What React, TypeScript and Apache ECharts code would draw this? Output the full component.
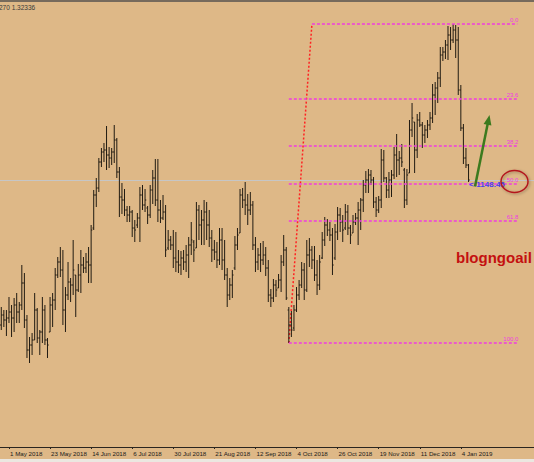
import React, { useEffect, useRef } from "react";
import * as echarts from "echarts";

// ---- Daily OHLC bars, first bar = 26 Apr 2018 ----
const high = [
  1.193, 1.190, 1.190, 1.203, 1.195, 1.202, 1.207, 1.198, 1.235, 1.227,
  1.185, 1.163, 1.167, 1.207, 1.192, 1.170, 1.203, 1.195, 1.162, 1.203,
  1.207, 1.232, 1.243, 1.253, 1.250, 1.213, 1.238, 1.222, 1.260, 1.225,
  1.236, 1.250, 1.243, 1.247, 1.253, 1.275, 1.310, 1.322, 1.342, 1.352,
  1.357, 1.374, 1.353, 1.352, 1.375, 1.362, 1.333, 1.317, 1.311, 1.294,
  1.294, 1.290, 1.280, 1.287, 1.313, 1.315, 1.311, 1.294, 1.315, 1.330,
  1.341, 1.341, 1.300, 1.305, 1.295, 1.270, 1.264, 1.270, 1.268, 1.250,
  1.249, 1.250, 1.255, 1.263, 1.278, 1.260, 1.298, 1.295, 1.290, 1.300,
  1.298, 1.290, 1.270, 1.260, 1.258, 1.272, 1.272, 1.260, 1.232, 1.222,
  1.230, 1.264, 1.272, 1.311, 1.312, 1.318, 1.306, 1.308, 1.299, 1.263,
  1.252, 1.257, 1.259, 1.253, 1.240, 1.211, 1.221, 1.220, 1.226, 1.245,
  1.265, 1.253, 1.193, 1.189, 1.195, 1.213, 1.220, 1.238, 1.237, 1.260,
  1.262, 1.254, 1.254, 1.240, 1.245, 1.268, 1.283, 1.281, 1.278, 1.272,
  1.276, 1.293, 1.292, 1.285, 1.296, 1.295, 1.275, 1.285, 1.287, 1.298,
  1.302, 1.320, 1.329, 1.331, 1.330, 1.323, 1.303, 1.304, 1.351, 1.350,
  1.323, 1.328, 1.330, 1.353, 1.366, 1.349, 1.356, 1.332, 1.331, 1.380,
  1.397, 1.378, 1.386, 1.388, 1.378, 1.375, 1.380, 1.388, 1.416, 1.418,
  1.428, 1.453, 1.453, 1.460, 1.474, 1.473, 1.476, 1.475, 1.473, 1.415,
  1.376, 1.352, 1.336,
];
const low = [
  1.170, 1.173, 1.164, 1.177, 1.163, 1.168, 1.177, 1.177, 1.190, 1.172,
  1.142, 1.137, 1.145, 1.160, 1.157, 1.145, 1.157, 1.155, 1.142, 1.168,
  1.173, 1.190, 1.222, 1.223, 1.175, 1.168, 1.200, 1.198, 1.205, 1.183,
  1.208, 1.207, 1.227, 1.227, 1.217, 1.217, 1.270, 1.293, 1.308, 1.333,
  1.338, 1.330, 1.332, 1.335, 1.337, 1.322, 1.283, 1.286, 1.284, 1.278,
  1.278, 1.263, 1.258, 1.272, 1.258, 1.290, 1.288, 1.276, 1.282, 1.296,
  1.294, 1.278, 1.277, 1.280, 1.243, 1.250, 1.250, 1.232, 1.228, 1.227,
  1.225, 1.230, 1.228, 1.222, 1.245, 1.238, 1.252, 1.260, 1.255, 1.255,
  1.260, 1.253, 1.238, 1.240, 1.232, 1.235, 1.230, 1.220, 1.193, 1.200,
  1.202, 1.230, 1.250, 1.267, 1.292, 1.285, 1.275, 1.285, 1.250, 1.228,
  1.230, 1.228, 1.235, 1.224, 1.198, 1.193, 1.198, 1.203, 1.212, 1.208,
  1.234, 1.200, 1.157, 1.163, 1.169, 1.188, 1.200, 1.212, 1.200, 1.208,
  1.233, 1.231, 1.219, 1.205, 1.210, 1.241, 1.254, 1.264, 1.259, 1.225,
  1.240, 1.260, 1.268, 1.258, 1.270, 1.265, 1.256, 1.267, 1.275, 1.255,
  1.270, 1.288, 1.307, 1.307, 1.315, 1.292, 1.283, 1.287, 1.292, 1.318,
  1.302, 1.302, 1.303, 1.321, 1.323, 1.325, 1.333, 1.292, 1.295, 1.327,
  1.363, 1.327, 1.342, 1.373, 1.352, 1.357, 1.362, 1.370, 1.377, 1.385,
  1.397, 1.413, 1.439, 1.441, 1.440, 1.450, 1.457, 1.442, 1.405, 1.369,
  1.336, 1.332, 1.318,
];
const open = [
  1.175, 1.185, 1.180, 1.182, 1.188, 1.182, 1.195, 1.188, 1.195, 1.217,
  1.180, 1.150, 1.155, 1.160, 1.190, 1.162, 1.168, 1.190, 1.160, 1.168,
  1.195, 1.200, 1.225, 1.238, 1.230, 1.190, 1.205, 1.218, 1.215, 1.225,
  1.210, 1.225, 1.235, 1.232, 1.238, 1.235, 1.272, 1.305, 1.312, 1.338,
  1.348, 1.350, 1.345, 1.342, 1.348, 1.360, 1.328, 1.303, 1.300, 1.290,
  1.285, 1.288, 1.272, 1.275, 1.282, 1.305, 1.295, 1.292, 1.285, 1.310,
  1.322, 1.300, 1.290, 1.282, 1.288, 1.252, 1.260, 1.255, 1.242, 1.238,
  1.235, 1.242, 1.238, 1.245, 1.255, 1.258, 1.252, 1.290, 1.275, 1.280,
  1.288, 1.275, 1.262, 1.250, 1.248, 1.240, 1.260, 1.240, 1.225, 1.205,
  1.215, 1.232, 1.255, 1.267, 1.305, 1.300, 1.295, 1.290, 1.295, 1.255,
  1.238, 1.245, 1.240, 1.245, 1.232, 1.205, 1.202, 1.215, 1.212, 1.220,
  1.238, 1.250, 1.190, 1.175, 1.172, 1.190, 1.205, 1.215, 1.230, 1.210,
  1.245, 1.250, 1.240, 1.225, 1.215, 1.242, 1.260, 1.275, 1.270, 1.265,
  1.242, 1.268, 1.285, 1.278, 1.272, 1.288, 1.272, 1.267, 1.278, 1.282,
  1.290, 1.300, 1.315, 1.320, 1.325, 1.320, 1.298, 1.290, 1.300, 1.340,
  1.322, 1.310, 1.320, 1.325, 1.345, 1.340, 1.342, 1.330, 1.300, 1.327,
  1.370, 1.378, 1.350, 1.380, 1.375, 1.365, 1.370, 1.375, 1.382, 1.405,
  1.412, 1.422, 1.445, 1.448, 1.455, 1.465, 1.460, 1.470, 1.460, 1.410,
  1.372, 1.342, 1.335,
];
const close = [
  1.185, 1.180, 1.182, 1.188, 1.182, 1.195, 1.188, 1.195, 1.217, 1.180,
  1.150, 1.155, 1.160, 1.190, 1.162, 1.168, 1.190, 1.160, 1.155, 1.195,
  1.200, 1.225, 1.238, 1.230, 1.190, 1.205, 1.218, 1.215, 1.230, 1.210,
  1.225, 1.235, 1.232, 1.238, 1.235, 1.270, 1.305, 1.312, 1.338, 1.348,
  1.350, 1.345, 1.342, 1.348, 1.360, 1.328, 1.303, 1.300, 1.290, 1.285,
  1.288, 1.272, 1.270, 1.282, 1.305, 1.295, 1.300, 1.285, 1.310, 1.322,
  1.300, 1.290, 1.282, 1.288, 1.250, 1.260, 1.255, 1.242, 1.238, 1.235,
  1.242, 1.238, 1.245, 1.255, 1.260, 1.250, 1.290, 1.275, 1.280, 1.288,
  1.275, 1.262, 1.250, 1.248, 1.240, 1.260, 1.240, 1.225, 1.205, 1.215,
  1.225, 1.255, 1.265, 1.305, 1.300, 1.295, 1.290, 1.295, 1.255, 1.238,
  1.245, 1.240, 1.245, 1.232, 1.205, 1.202, 1.215, 1.210, 1.220, 1.238,
  1.250, 1.202, 1.175, 1.170, 1.190, 1.205, 1.215, 1.230, 1.210, 1.245,
  1.250, 1.240, 1.225, 1.215, 1.238, 1.260, 1.275, 1.270, 1.265, 1.235,
  1.268, 1.285, 1.278, 1.270, 1.288, 1.272, 1.265, 1.278, 1.282, 1.290,
  1.300, 1.315, 1.320, 1.325, 1.320, 1.298, 1.290, 1.300, 1.340, 1.322,
  1.310, 1.320, 1.325, 1.345, 1.340, 1.342, 1.338, 1.300, 1.325, 1.370,
  1.382, 1.350, 1.380, 1.375, 1.365, 1.370, 1.375, 1.382, 1.405, 1.412,
  1.422, 1.445, 1.448, 1.455, 1.465, 1.460, 1.470, 1.460, 1.410, 1.372,
  1.342, 1.335, 1.320,
];

// ---- Calendar / axis ----
const firstDay = "2018-04-26";
const holidays = ["2018-12-25", "2019-01-01"];
const tickLabels = [
  "1 May 2018", "23 May 2018", "14 Jun 2018", "6 Jul 2018", "30 Jul 2018",
  "21 Aug 2018", "12 Sep 2018", "4 Oct 2018", "26 Oct 2018", "19 Nov 2018",
  "11 Dec 2018", "4 Jan 2019",
];
const emptySlots = 25; // chart shift area on the right
const MONTHS = ["Jan", "Feb", "Mar", "Apr", "May", "Jun", "Jul", "Aug", "Sep", "Oct", "Nov", "Dec"];

// ---- Fibonacci retracement ----
const fibRatios = [0, 23.6, 38.2, 50, 61.8, 100];
const fibLowIndex = 112;   // swing low bar
const fibHighIndex = 176;  // swing high bar
const fibAnchorTopIndex = 121;
const fibEndIndex = 201;

// ---- Texts ----
const headerText = "270 1.32336";
const priceTag = "<-1148.45";
const watermark = "blogngoail";

function buildCategories(): string[] {
  const out: string[] = [];
  const d = new Date(firstDay + "T00:00:00Z");
  while (out.length < high.length) {
    const iso = d.toISOString().slice(0, 10);
    const wd = d.getUTCDay();
    if (wd !== 0 && wd !== 6 && !holidays.includes(iso)) {
      out.push(`${d.getUTCDate()} ${MONTHS[d.getUTCMonth()]} ${d.getUTCFullYear()}`);
    }
    d.setUTCDate(d.getUTCDate() + 1);
  }
  for (let i = 0; i < emptySlots; i++) out.push(`~${i}`);
  return out;
}

const FONT = "'Liberation Sans', Arial, sans-serif";
const FIB_COLOR = "#f03ce0";

export default function App() {
  const ref = useRef<HTMLDivElement>(null);

  useEffect(() => {
    if (!ref.current) return;
    const chart = echarts.init(ref.current, undefined, { renderer: "svg" });
    const categories = buildCategories();
    const tickSet = new Set(tickLabels);
    const ohlc = high.map((h, i) => [i, open[i], h, low[i], close[i]]);
    const swingLow = low[fibLowIndex];
    const swingHigh = high[fibHighIndex];

    const fibItems = fibRatios.map((r) => [
      r === 0 ? fibAnchorTopIndex : fibLowIndex,
      fibEndIndex,
      swingHigh - ((swingHigh - swingLow) * r) / 100,
      r,
    ]);

    const trendStyle = { color: "#ff2222", type: [2, 2], width: 1.5 };
    const trendLine = [
      { name: "", coord: [fibLowIndex, swingLow], lineStyle: { ...trendStyle }, label: { show: false } },
      { coord: [fibAnchorTopIndex, swingHigh], lineStyle: { ...trendStyle } },
    ];
    const bidLine = {
      name: "",
      yAxis: close[close.length - 1],
      lineStyle: { color: "#c6c6c6", type: "solid", width: 1 },
      label: { show: false },
    };

    const barColor = "#211b12";

    chart.setOption({
      animation: false,
      backgroundColor: "#DEB887",
      grid: { left: -1.5, right: 0, top: 3, bottom: 15 },
      xAxis: {
        type: "category",
        data: categories,
        boundaryGap: true,
        axisLine: { show: true, lineStyle: { color: "#2a2520", width: 1 } },
        axisTick: {
          show: true,
          interval: (_i: number, v: string) => tickSet.has(v),
          alignWithLabel: true,
          length: 2,
          lineStyle: { color: "#2a2520" },
        },
        axisLabel: {
          interval: (_i: number, v: string) => tickSet.has(v),
          align: "left",
          margin: 3.5,
          fontSize: 6.2,
          color: "#1a1a1a",
          fontFamily: FONT,
          padding: [0, 0, 0, 1],
        },
        splitLine: { show: false },
      },
      yAxis: {
        type: "value",
        min: 1.053,
        max: 1.497,
        show: false,
        splitLine: { show: false },
      },
      series: [
        {
          type: "custom",
          name: "bars",
          coordinateSystem: "cartesian2d",
          data: ohlc,
          encode: { x: 0, y: [1, 2, 3, 4] },
          clip: true,
          z: 3,
          renderItem: (_params: any, api: any) => {
            const k = api.value(0);
            const pH = api.coord([k, api.value(2)]);
            const pL = api.coord([k, api.value(3)]);
            const pO = api.coord([k, api.value(1)]);
            const pC = api.coord([k, api.value(4)]);
            const x = pH[0];
            const st = { stroke: barColor, lineWidth: 1 };
            return {
              type: "group",
              children: [
                { type: "line", shape: { x1: x, y1: pH[1], x2: x, y2: pL[1] }, style: st },
                { type: "line", shape: { x1: x - 1.2, y1: pO[1], x2: x, y2: pO[1] }, style: st },
                { type: "line", shape: { x1: x, y1: pC[1], x2: x + 1.2, y2: pC[1] }, style: st },
              ],
            };
          },
          markLine: {
            silent: true,
            symbol: ["none", "none"],
            animation: false,
            z: 1,
            label: { show: false },
            emphasis: { disabled: true },
            data: [bidLine, trendLine],
          },
        },
        {
          type: "custom",
          name: "fibo",
          coordinateSystem: "cartesian2d",
          data: fibItems,
          encode: { x: [0, 1], y: 2 },
          clip: false,
          z: 4,
          silent: true,
          renderItem: (_params: any, api: any) => {
            const p = api.value(2);
            const a = api.coord([api.value(0), p]);
            const b = api.coord([api.value(1), p]);
            const y = Math.round(a[1]);
            const r = api.value(3);
            return {
              type: "group",
              children: [
                {
                  type: "line",
                  shape: { x1: a[0], y1: y, x2: b[0], y2: y },
                  style: { stroke: FIB_COLOR, lineWidth: 1.6, lineDash: [3, 2] },
                },
                {
                  type: "text",
                  x: b[0] + 1,
                  y: y - 1.2,
                  style: {
                    text: Number(r).toFixed(1),
                    fill: FIB_COLOR,
                    fontSize: 6,
                    fontFamily: FONT,
                    align: "right",
                    verticalAlign: "bottom",
                  },
                },
              ],
            };
          },
        },
      ],
      graphic: [
        { type: "rect", shape: { x: 0, y: 0, width: 534, height: 2 }, style: { fill: "#766a5c" }, z: 100 },
        { type: "rect", shape: { x: 0, y: 459, width: 534, height: 3 }, style: { fill: "#ebe7e0" }, z: 100 },
        {
          type: "text",
          x: -1,
          y: 7,
          z: 100,
          style: { text: headerText, fontSize: 6.5, fill: "#3a3a3a", verticalAlign: "middle", fontFamily: FONT },
        },
        {
          type: "text",
          x: 469,
          y: 184.5,
          z: 100,
          style: {
            text: priceTag,
            fontSize: 8,
            fontWeight: "bold",
            fill: "#4b3df0",
            verticalAlign: "middle",
            fontFamily: FONT,
          },
        },
        {
          type: "ellipse",
          z: 100,
          shape: { cx: 514.5, cy: 181.5, rx: 13.5, ry: 11 },
          style: {
            fill: "none",
            stroke: "#b3161c",
            lineWidth: 1.5,
            shadowBlur: 3,
            shadowColor: "rgba(0,0,0,0.35)",
            shadowOffsetX: 1,
            shadowOffsetY: 1,
          },
        },
        {
          type: "line",
          z: 100,
          shape: { x1: 475, y1: 186.5, x2: 487.9, y2: 122.8 },
          style: { stroke: "#3c7a1e", lineWidth: 2.5 },
        },
        {
          type: "polygon",
          z: 100,
          shape: { points: [[489.5, 115], [483.6, 124.0], [491.4, 125.6]] },
          style: { fill: "#3c7a1e" },
        },
        {
          type: "text",
          x: 456,
          y: 257,
          z: 100,
          style: {
            text: watermark,
            fontSize: 15,
            fontWeight: "bold",
            fill: "#c41010",
            verticalAlign: "middle",
            fontFamily: FONT,
          },
        },
      ],
    });
    return () => chart.dispose();
  }, []);

  return (
    <div
      ref={ref}
      style={{ position: "fixed", left: 0, top: 0, width: "534px", height: "462px" }}
    />
  );
}
